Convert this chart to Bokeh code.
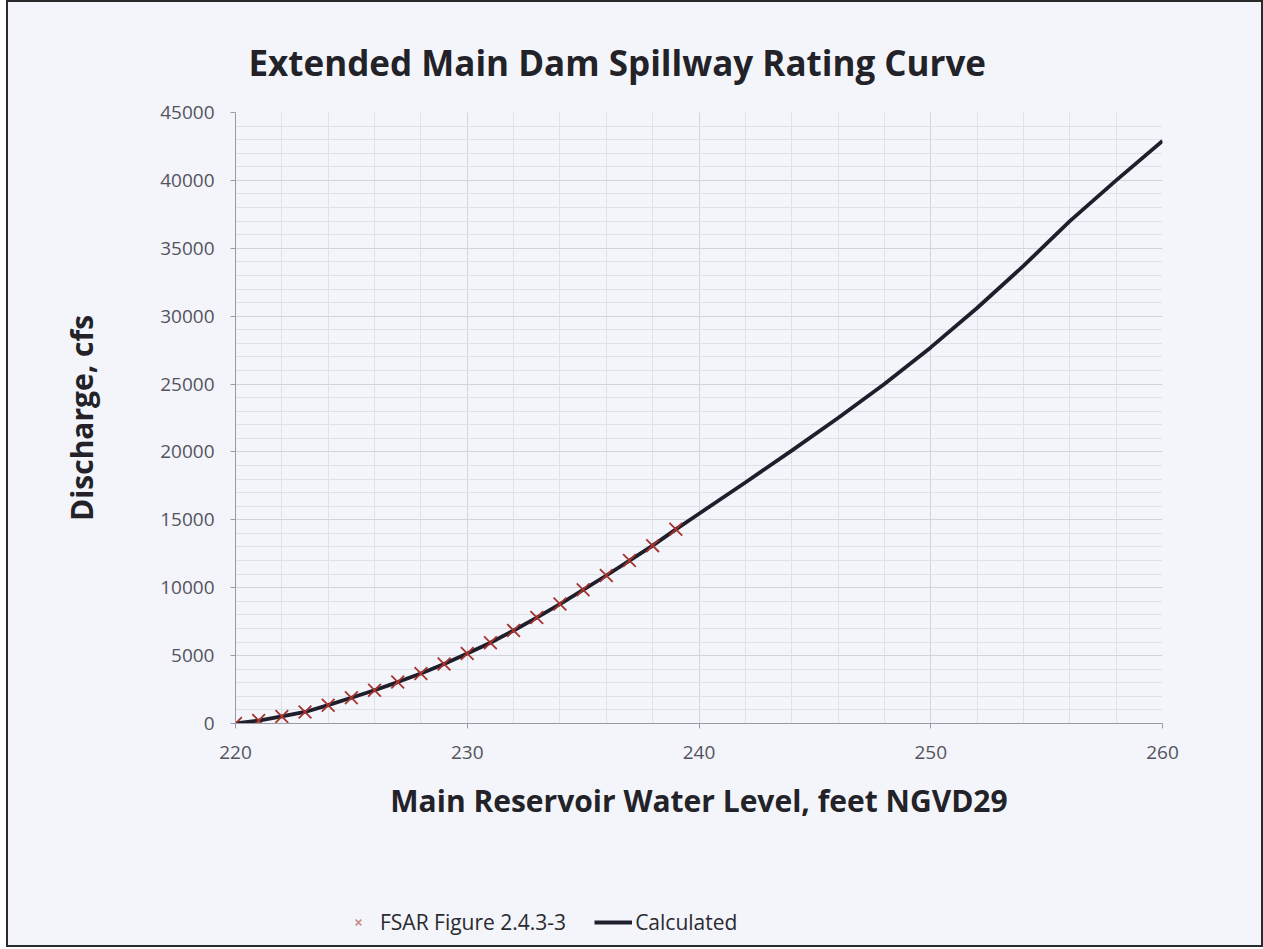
from bokeh.plotting import figure
from bokeh.models import Legend, LegendItem, SingleIntervalTicker, Range1d
from bokeh.layouts import column
from bokeh.embed import file_html
from bokeh.resources import INLINE

# ---- data ----
fsar_level = [220, 221, 222, 223, 224, 225, 226, 227, 228, 229,
              230, 231, 232, 233, 234, 235, 236, 237, 238, 239]
fsar_discharge = [0, 220, 520, 850, 1350, 1900, 2450, 3050, 3680, 4380,
                  5150, 5950, 6850, 7800, 8800, 9850, 10900, 12000, 13100, 14300]

calc_level = [220, 221, 222, 223, 224, 225, 226, 227, 228, 229, 230,
              231, 232, 233, 234, 235, 236, 237, 238, 239, 240,
              242, 244, 246, 248, 250, 252, 254, 256, 258, 260]
calc_discharge = [0, 220, 520, 850, 1350, 1900, 2450, 3050, 3680, 4380, 5150,
                  5950, 6850, 7800, 8800, 9850, 10900, 12000, 13100, 14300, 15450,
                  17750, 20100, 22500, 25000, 27700, 30600, 33700, 37000, 40000, 42900]

title_text = "Extended Main Dam Spillway Rating Curve"
x_title = "Main Reservoir Water Level, feet NGVD29"
y_title = "Discharge, cfs"
legend_labels = ["FSAR Figure 2.4.3-3", "Calculated"]

BG = "#f3f5fa"
FONT = "Open Sans"
LINE_COLOR = "#1e1e2c"
MARK_COLOR = "#a8322c"

# ---------------- main chart ----------------
p = figure(width=1253, height=870, output_backend="svg", toolbar_location=None,
           x_range=Range1d(220, 260), y_range=Range1d(0, 45000),
           min_border_left=227, min_border_right=99,
           min_border_top=110, min_border_bottom=149)
p.background_fill_color = BG
p.border_fill_color = BG
p.outline_line_color = None

p.title.text = title_text
p.title.align = "left"
p.title.offset = 13
p.title.standoff = 54
p.title.text_font = FONT
p.title.text_font_style = "bold"
p.title.text_font_size = "35px"
p.title.text_color = "#222228"

p.xaxis.ticker = SingleIntervalTicker(interval=10, num_minor_ticks=5)
p.yaxis.ticker = SingleIntervalTicker(interval=5000, num_minor_ticks=5)
for ax in (p.xaxis[0], p.yaxis[0]):
    ax.axis_line_color = "#9a9aa6"
    ax.major_tick_line_color = "#9a9aa6"
    ax.major_tick_out = 5
    ax.major_tick_in = 0
    ax.minor_tick_line_color = None
    ax.major_label_text_font = FONT
    ax.major_label_text_font_size = "19px"
    ax.major_label_text_color = "#55535e"
    ax.axis_label_text_font = FONT
    ax.axis_label_text_font_style = "bold"
    ax.axis_label_text_font_size = "30px"
    ax.axis_label_text_color = "#222228"
p.xaxis.axis_label = x_title
p.yaxis.axis_label = y_title
p.xaxis.major_label_standoff = 17
p.yaxis.major_label_standoff = 16
p.xaxis.axis_label_standoff = 18
p.yaxis.axis_label_standoff = 55

p.xgrid.grid_line_color = "#d2d4dc"
p.ygrid.grid_line_color = "#d2d4dc"
p.xgrid.minor_grid_line_color = "#dfe1e8"
p.ygrid.minor_grid_line_color = "#dfe1e8"

p.line(calc_level, calc_discharge, line_color=LINE_COLOR, line_width=3.8)
p.scatter(fsar_level, fsar_discharge, marker="x", size=18,
          line_color=MARK_COLOR, line_width=1.8)

# ---------------- legend strip ----------------
q = figure(width=1253, height=73, output_backend="svg", toolbar_location=None,
           x_axis_type=None, y_axis_type=None, min_border=0,
           x_range=Range1d(0, 1), y_range=Range1d(0, 1))
q.background_fill_color = BG
q.border_fill_color = BG
q.outline_line_color = None
q.grid.visible = False
# swatch renderers kept outside the visible range; only their legend glyphs show
lg_calc = q.line([5, 6], [5, 5], line_color=LINE_COLOR, line_width=3.8)
lg_fsar = q.scatter([5], [5], marker="x", size=14, line_color="#c98a88", line_width=1.6)

legend = Legend(items=[LegendItem(label=legend_labels[0], renderers=[lg_fsar]),
                       LegendItem(label=legend_labels[1], renderers=[lg_calc])],
                orientation="horizontal", location=(104, 9),
                background_fill_alpha=0, border_line_color=None,
                label_text_font=FONT, label_text_font_size="21px",
                label_text_color="#2a2a30", spacing=28, glyph_width=38,
                label_standoff=3, padding=0, margin=0)
q.add_layout(legend, "center")

layout = column(p, q, spacing=0,
                styles={"border": "2px solid #2a2a2a", "margin-left": "6px",
                        "background-color": BG})

open("out.html", "w").write(file_html(layout, INLINE))
